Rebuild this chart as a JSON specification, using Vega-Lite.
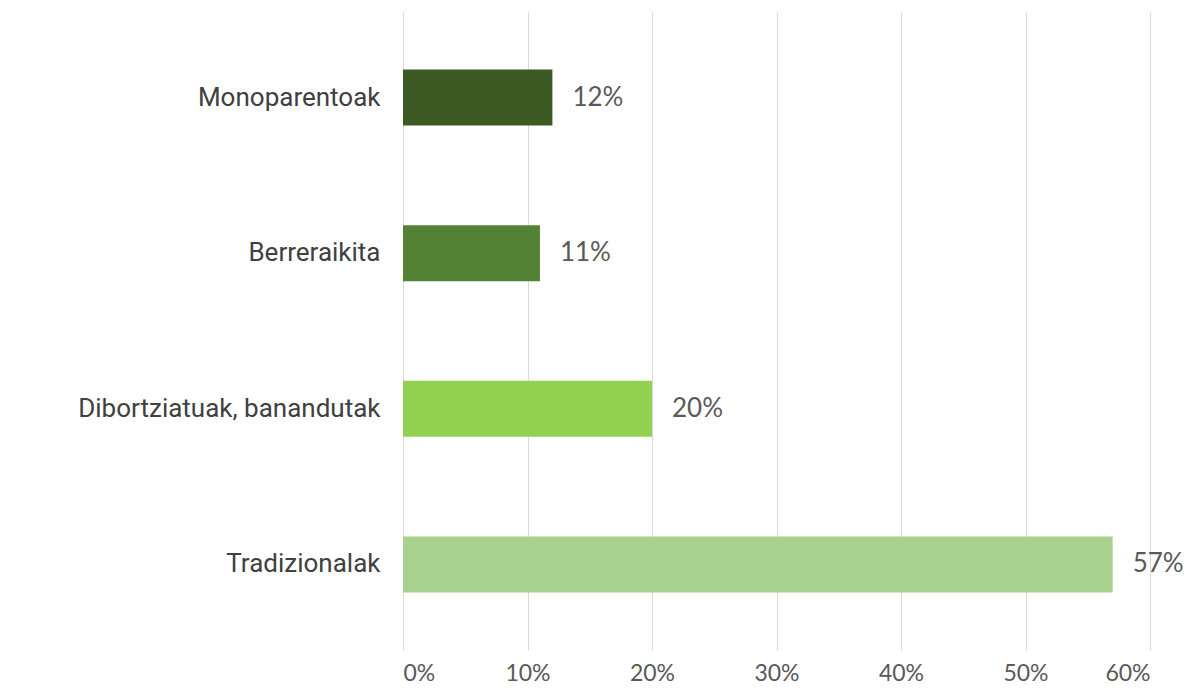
{
  "$schema": "https://vega.github.io/schema/vega-lite/v6.json",
  "width": 747,
  "height": 638,
  "autosize": {"type": "none"},
  "padding": {"left": 403, "top": 12, "right": 39, "bottom": 45},
  "background": "white",
  "data": {"values": [
    {"category": "Monoparentoak", "value": 0.12, "color": "#3b5a24"},
    {"category": "Berreraikita", "value": 0.11, "color": "#548235"},
    {"category": "Dibortziatuak, banandutak", "value": 0.20, "color": "#92d050"},
    {"category": "Tradizionalak", "value": 0.57, "color": "#a9d18e"}
  ]},
  "encoding": {
    "y": {
      "field": "category", "type": "nominal", "sort": null,
      "scale": {"paddingInner": 0.64, "paddingOuter": 0.37},
      "axis": {"title": null, "domain": false, "ticks": false, "labelPadding": 23,
               "labelFont": "Roboto", "labelFontSize": 26, "labelColor": "#404040", "labelLimit": 400}
    },
    "x": {
      "field": "value", "type": "quantitative",
      "scale": {"domain": [0, 0.6], "nice": false},
      "axis": {"title": null, "format": ".0%", "values": [0, 0.1, 0.2, 0.3, 0.4, 0.5, 0.6],
               "domain": false, "ticks": false, "grid": true, "gridColor": "#d9d9d9", "gridWidth": 1,
               "labelPadding": 23, "labelBaseline": "middle", "labelFont": "Lato", "labelFontSize": 23, "labelColor": "#595959"}
    }
  },
  "layer": [
    {"mark": {"type": "bar"}, "encoding": {"color": {"field": "color", "type": "nominal", "scale": null}}},
    {"mark": {"type": "text", "align": "left", "dx": 20, "font": "Lato", "fontSize": 26, "color": "#595959"},
     "encoding": {"text": {"field": "value", "type": "quantitative", "format": ".0%"}}}
  ],
  "config": {"view": {"stroke": null}}
}
